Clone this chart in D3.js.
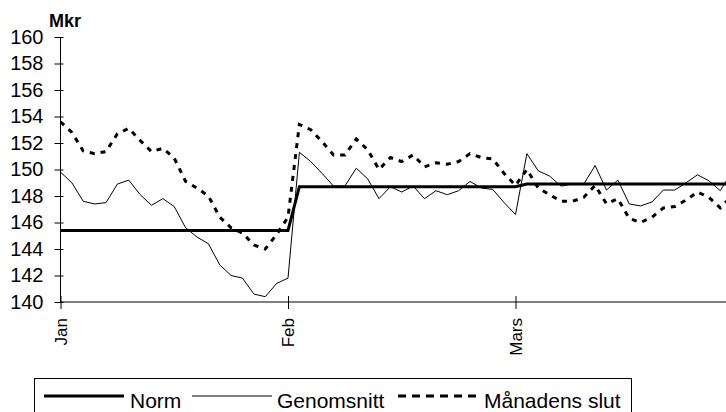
<!DOCTYPE html>
<html>
<head>
<meta charset="utf-8">
<script src="https://cdn.jsdelivr.net/npm/d3@7"></script>
<style>
  html, body { margin: 0; padding: 0; background: #fff; }
  svg { display: block; font-family: "Liberation Sans", Arial, sans-serif; }
</style>
</head>
<body>
<svg id="chart" width="726" height="412"></svg>
<script>
// ---- data (one value per working day, Jan..Mars) ----
const monthLabels = ["Jan", "Feb", "Mars"];
const monthStartIndex = [0, 20, 40];
const yTickValues = [140, 142, 144, 146, 148, 150, 152, 154, 156, 158, 160];
const unitLabel = "Mkr";
const seriesNames = ["Norm", "Genomsnitt", "Månadens slut"];

const norm = [
  145.4, 145.4, 145.4, 145.4, 145.4, 145.4, 145.4, 145.4, 145.4, 145.4,
  145.4, 145.4, 145.4, 145.4, 145.4, 145.4, 145.4, 145.4, 145.4, 145.4,
  145.4, 148.7, 148.7, 148.7, 148.7, 148.7, 148.7, 148.7, 148.7, 148.7,
  148.7, 148.7, 148.7, 148.7, 148.7, 148.7, 148.7, 148.7, 148.7, 148.7,
  148.7, 148.9, 148.9, 148.9, 148.9, 148.9, 148.9, 148.9, 148.9, 148.9,
  148.9, 148.9, 148.9, 148.9, 148.9, 148.9, 148.9, 148.9, 148.9, 148.9
];
const genomsnitt = [
  149.8, 149.0, 147.6, 147.4, 147.5, 148.9, 149.2, 148.1, 147.3, 147.8,
  147.2, 145.6, 144.9, 144.4, 142.8, 142.0, 141.8, 140.6, 140.4, 141.4,
  141.8, 151.3, 150.6, 149.7, 148.75, 148.75, 150.1, 149.3, 147.8, 148.7,
  148.3, 148.75, 147.8, 148.4, 148.1, 148.4, 149.1, 148.6, 148.5, 147.5,
  146.6, 151.2, 149.9, 149.5, 148.75, 148.9, 148.9, 150.3, 148.45, 149.2,
  147.4, 147.25, 147.55, 148.45, 148.45, 149.0, 149.6, 149.15, 148.4, 149.8
];
const manadensSlut = [
  153.6, 152.8, 151.4, 151.2, 151.35, 152.7, 153.1, 152.2, 151.35, 151.6,
  150.85, 149.1, 148.6, 148.0, 146.4, 145.6, 145.2, 144.3, 144.0, 145.1,
  146.4, 153.4, 153.0, 152.1, 151.1, 151.1, 152.3, 151.5, 150.0, 150.9,
  150.6, 151.1, 150.2, 150.5, 150.4, 150.6, 151.2, 150.9, 150.8, 149.7,
  148.8, 150.0, 148.6, 148.1, 147.6, 147.6, 147.9, 148.8, 147.4, 147.8,
  146.3, 146.0, 146.4, 147.1, 147.2, 147.7, 148.3, 147.9, 147.1, 148.0
];

// ---- drawing ----
const svg = d3.select("#chart");
const W = 726, H = 412;
const plot = { left: 60.5, top: 37, bottom: 302, right: 726 };

const x = d3.scaleLinear().domain([0, 20]).range([plot.left, 288]);
const y = d3.scaleLinear().domain([140, 160]).range([plot.bottom, plot.top]);

svg.append("defs").append("clipPath").attr("id", "clip")
  .append("rect").attr("x", 0).attr("y", 0).attr("width", W).attr("height", plot.bottom + 10);

// Y axis
const yAxis = d3.axisLeft(y).tickValues(yTickValues).tickSize(0).tickPadding(17);
const gy = svg.append("g").attr("transform", `translate(${plot.left},0)`).call(yAxis);
gy.select(".domain").remove();
gy.selectAll("text").attr("font-size", 20).attr("fill", "#000")
  .attr("font-family", '"Liberation Sans", Arial, sans-serif');
gy.selectAll(".tick").append("line")
  .attr("x1", -6).attr("x2", 3).attr("stroke", "#000").attr("stroke-width", 1);
svg.append("line")
  .attr("x1", plot.left).attr("x2", plot.left)
  .attr("y1", plot.top).attr("y2", plot.bottom)
  .attr("stroke", "#000").attr("stroke-width", 1);

// X axis
const xAxis = d3.axisBottom(x).tickValues(monthStartIndex)
  .tickFormat((d, i) => monthLabels[i]).tickSize(0);
const gx = svg.append("g").attr("transform", `translate(0,${plot.bottom})`).call(xAxis);
gx.select(".domain").remove();
gx.selectAll(".tick line").remove();
gx.selectAll(".tick").append("line")
  .attr("y1", -6).attr("y2", 7).attr("stroke", "#000").attr("stroke-width", 1);
gx.selectAll("text")
  .attr("font-size", 17).attr("fill", "#000")
  .attr("font-family", '"Liberation Sans", Arial, sans-serif')
  .attr("transform", "rotate(-90)")
  .attr("text-anchor", "end")
  .attr("x", -16).attr("y", 0).attr("dy", "0.35em");
svg.append("line")
  .attr("x1", plot.left).attr("x2", plot.right)
  .attr("y1", plot.bottom).attr("y2", plot.bottom)
  .attr("stroke", "#000").attr("stroke-width", 1);

// unit label
svg.append("text").attr("x", 49).attr("y", 27)
  .attr("font-size", 18).attr("font-weight", "bold").text(unitLabel);

// lines
const line = d3.line().x((d, i) => x(i)).y(d => y(d));
const gl = svg.append("g").attr("clip-path", "url(#clip)");
gl.append("path").datum(manadensSlut).attr("d", line)
  .attr("fill", "none").attr("stroke", "#000").attr("stroke-width", 3)
  .attr("stroke-dasharray", "5,6");
gl.append("path").datum(genomsnitt).attr("d", line)
  .attr("fill", "none").attr("stroke", "#000").attr("stroke-width", 1);
gl.append("path").datum(norm).attr("d", line)
  .attr("fill", "none").attr("stroke", "#000").attr("stroke-width", 3);

// legend
const lg = svg.append("g");
lg.append("rect").attr("x", 34.5).attr("y", 378.5).attr("width", 597).attr("height", 60)
  .attr("fill", "#fff").attr("stroke", "#000").attr("stroke-width", 1);
const legendItems = [
  { name: seriesNames[0], x1: 44, x2: 124, tx: 130, w: 3, dash: null },
  { name: seriesNames[1], x1: 192, x2: 272, tx: 277, w: 1, dash: null },
  { name: seriesNames[2], x1: 398, x2: 477, tx: 484, w: 3, dash: "8,6" }
];
legendItems.forEach(it => {
  const l = lg.append("line").attr("x1", it.x1).attr("x2", it.x2)
    .attr("y1", 396).attr("y2", 396).attr("stroke", "#000").attr("stroke-width", it.w);
  if (it.dash) l.attr("stroke-dasharray", it.dash);
  lg.append("text").attr("x", it.tx).attr("y", 408).attr("font-size", 21).text(it.name);
});
</script>
</body>
</html>
